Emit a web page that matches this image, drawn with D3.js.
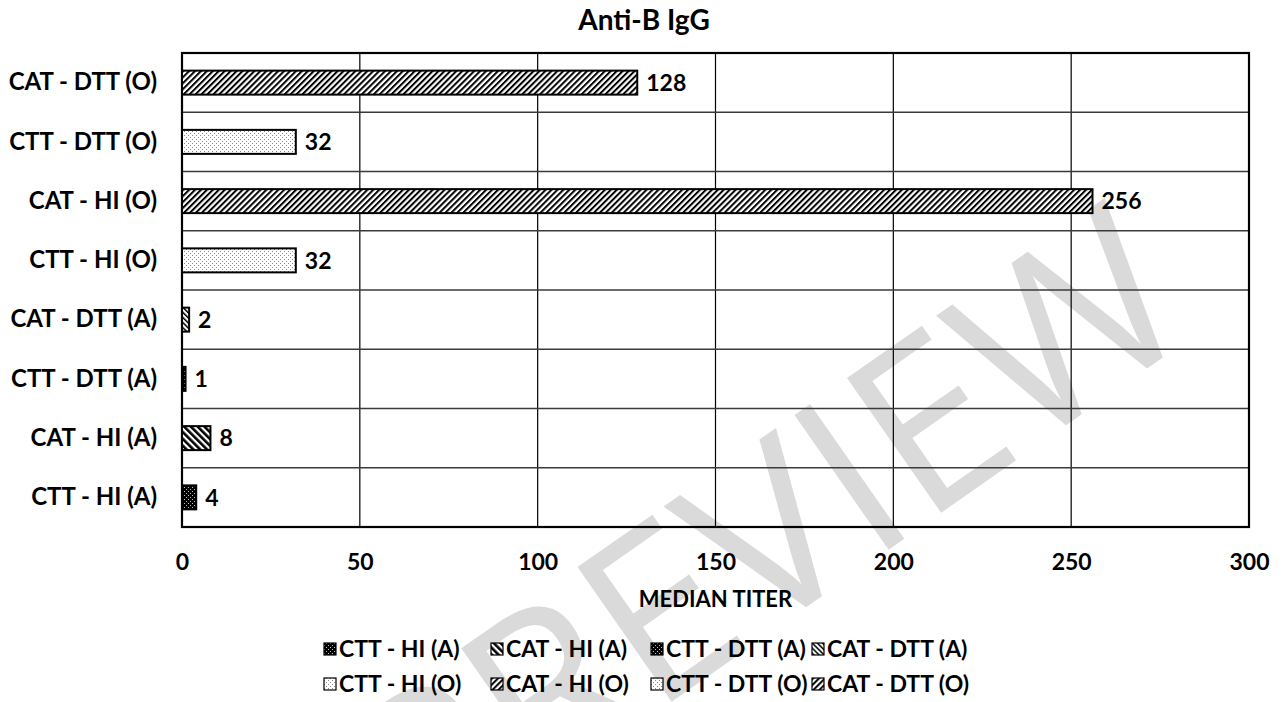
<!DOCTYPE html>
<html>
<head>
<meta charset="utf-8">
<script src="https://cdn.jsdelivr.net/npm/d3@7"></script>
<style>
  html, body { margin: 0; padding: 0; background: #fff; }
  svg { display: block; }
  text { font-family: Lato, "Open Sans", sans-serif; font-weight: bold; fill: #000; }
</style>
</head>
<body>
<svg id="chart" width="1283" height="702"></svg>
<script>
// Categories, top to bottom as drawn
const categories = [
  "CAT - DTT (O)", "CTT - DTT (O)", "CAT - HI (O)", "CTT - HI (O)",
  "CAT - DTT (A)", "CTT - DTT (A)", "CAT - HI (A)", "CTT - HI (A)"
];
// Median titer per category
const titers = [128, 32, 256, 32, 2, 1, 8, 4];
// Fill pattern per category
const fills = [
  "diagUp", "dotsLight", "diagUp", "dotsLight",
  "diagDownThin", "dotsDark", "diagDownWide", "dotsDark"
];
// Legend order (two rows of four)
const legendLabels = [
  "CTT - HI (A)", "CAT - HI (A)", "CTT - DTT (A)", "CAT - DTT (A)",
  "CTT - HI (O)", "CAT - HI (O)", "CTT - DTT (O)", "CAT - DTT (O)"
];
const legendFills = [
  "dotsDark", "diagDownWide", "dotsDark", "diagDownThin",
  "dotsLight", "diagUp", "dotsLight", "diagUp"
];
const xTicks = [0, 50, 100, 150, 200, 250, 300];

const svg = d3.select("#chart");
const margin = { left: 182, right: 34, top: 53, bottom: 175 };
const W = 1283, H = 702;
const plotW = W - margin.left - margin.right;
const plotH = H - margin.top - margin.bottom;

// ---- fill patterns ----
const defs = svg.append("defs");

function hatch(id, angle, size, lineW) {
  const p = defs.append("pattern")
    .attr("id", id).attr("patternUnits", "userSpaceOnUse")
    .attr("width", size).attr("height", size)
    .attr("patternTransform", `rotate(${angle})`);
  p.append("rect").attr("width", size).attr("height", size).attr("fill", "#fff");
  p.append("rect").attr("x", 0).attr("y", 0).attr("width", lineW).attr("height", size).attr("fill", "#000");
}
hatch("diagUp", 45, 4.2, 2);
hatch("diagDownWide", -45, 4.8, 2.6);
hatch("diagDownThin", -45, 3.6, 1.5);

function dots(id, bg, dot, w, h) {
  const p = defs.append("pattern")
    .attr("id", id).attr("patternUnits", "userSpaceOnUse")
    .attr("width", w).attr("height", h);
  p.append("rect").attr("width", w).attr("height", h).attr("fill", bg);
  p.append("rect").attr("x", 0).attr("y", 0).attr("width", 1).attr("height", 1).attr("fill", dot);
  p.append("rect").attr("x", w / 2).attr("y", h / 2).attr("width", 1).attr("height", 1).attr("fill", dot);
}
dots("dotsLight", "#fff", "#8a8a8a", 4, 4);
dots("dotsDark", "#000", "#bdbdbd", 4, 4);

// ---- watermark ----
svg.append("text")
  .attr("transform", "translate(765,535) rotate(-35)")
  .attr("text-anchor", "middle")
  .attr("dy", "0.36em")
  .style("font-family", "'Open Sans', sans-serif")
  .style("font-weight", "normal")
  .style("font-size", "230px")
  .style("fill", "#dadada")
  .text("PREVIEW");

// ---- scales ----
const x = d3.scaleLinear().domain([0, 300]).range([0, plotW]);
const y = d3.scaleBand().domain(categories).range([0, plotH])
  .paddingInner(0.595).paddingOuter(0.2975);

const g = svg.append("g").attr("transform", `translate(${margin.left},${margin.top})`);

// vertical gridlines
g.append("g")
  .selectAll("line").data(xTicks.slice(1, -1)).join("line")
  .attr("x1", d => x(d)).attr("x2", d => x(d))
  .attr("y1", 0).attr("y2", plotH)
  .attr("stroke", "#000").attr("stroke-width", 1.2);

// horizontal category separators
const step = y.step();
g.append("g")
  .selectAll("line").data(d3.range(1, categories.length)).join("line")
  .attr("x1", 0).attr("x2", plotW)
  .attr("y1", i => i * step).attr("y2", i => i * step)
  .attr("stroke", "#3a3a3a").attr("stroke-width", 1.5);

// plot frame
g.append("rect")
  .attr("x", 0).attr("y", 0).attr("width", plotW).attr("height", plotH)
  .attr("fill", "none").attr("stroke", "#000").attr("stroke-width", 2.2);

// bars
g.append("g")
  .selectAll("rect").data(categories).join("rect")
  .attr("x", 0)
  .attr("y", d => y(d))
  .attr("width", (d, i) => x(titers[i]))
  .attr("height", y.bandwidth())
  .attr("fill", (d, i) => `url(#${fills[i]})`)
  .attr("stroke", "#000").attr("stroke-width", 2);

// value labels
g.append("g")
  .selectAll("text").data(categories).join("text")
  .attr("x", (d, i) => x(titers[i]) + 9)
  .attr("y", d => y(d) + y.bandwidth() / 2)
  .attr("dy", "0.36em")
  .style("font-size", "23px")
  .text((d, i) => titers[i]);

// category axis labels
const yAxis = d3.axisLeft(y).tickSize(0).tickPadding(25);
const ya = g.append("g").call(yAxis);
ya.select(".domain").remove();
ya.selectAll("text").style("font-size", "24px").attr("fill", "#000");

// value axis labels
const xAxis = d3.axisBottom(x).tickValues(xTicks).tickSize(0).tickPadding(27);
const xa = g.append("g").attr("transform", `translate(0,${plotH})`).call(xAxis);
xa.select(".domain").remove();
xa.selectAll("text").style("font-size", "23px").attr("fill", "#000");

// axis title
svg.append("text")
  .attr("x", margin.left + plotW / 2).attr("y", 607)
  .attr("text-anchor", "middle")
  .style("font-size", "22px")
  .text("MEDIAN TITER");

// chart title
svg.append("text")
  .attr("x", 644).attr("y", 30)
  .attr("text-anchor", "middle")
  .style("font-size", "28px")
  .text("Anti-B IgG");

// legend
const legendX = [324, 491, 651, 812];
const legendY = [649, 684];
const lg = svg.append("g")
  .selectAll("g").data(legendLabels).join("g")
  .attr("transform", (d, i) => `translate(${legendX[i % 4]},${legendY[Math.floor(i / 4)]})`);
lg.append("rect")
  .attr("x", 0).attr("y", -6).attr("width", 12).attr("height", 12)
  .attr("fill", (d, i) => `url(#${legendFills[i]})`)
  .attr("stroke", "#000").attr("stroke-width", 1.2);
lg.append("text")
  .attr("x", 15).attr("y", 0)
  .attr("dy", "0.36em")
  .style("font-size", "23px")
  .text(d => d);
</script>
</body>
</html>
